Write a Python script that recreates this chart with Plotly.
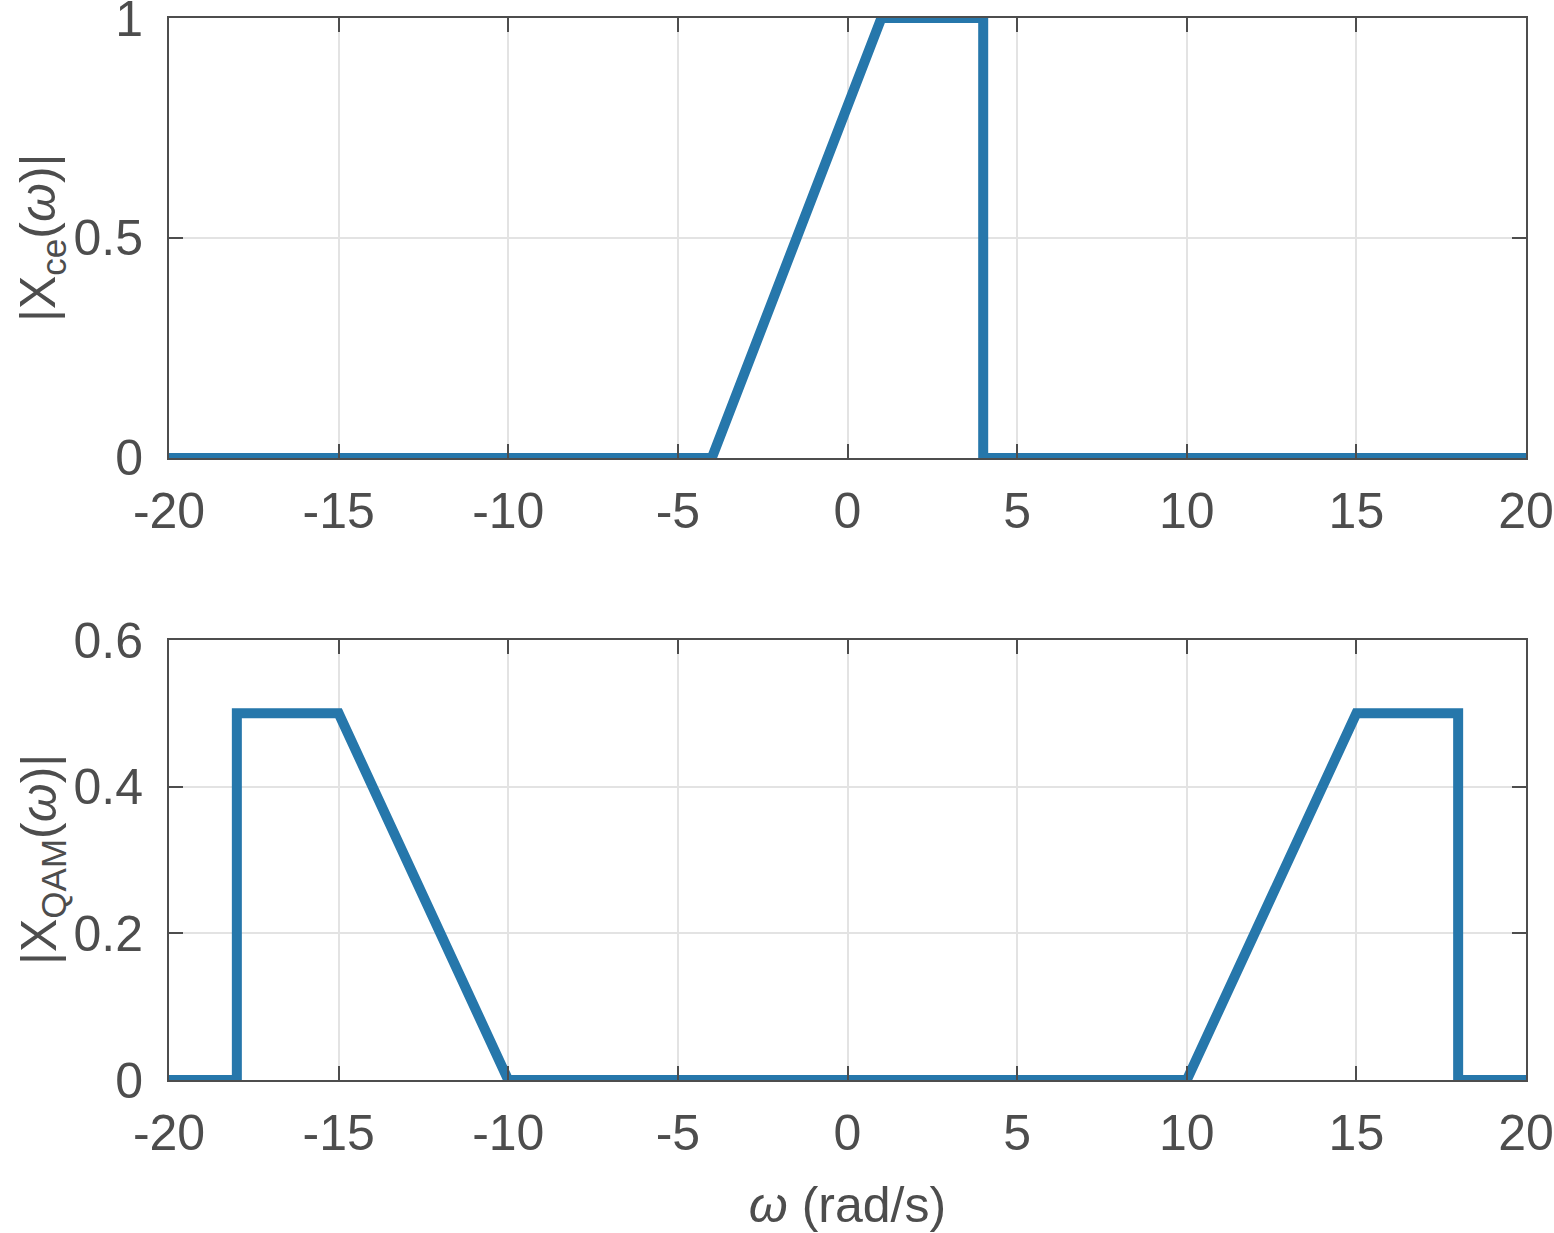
import plotly.graph_objects as go
from plotly.subplots import make_subplots

# |Xce(w)| : complex envelope spectrum
w_ce = [-20, -4, 1, 4, 4, 20]
mag_ce = [0, 0, 1, 1, 0, 0]

# |XQAM(w)| : QAM spectrum
w_qam = [-20, -18, -18, -15, -10, 10, 15, 18, 18, 20]
mag_qam = [0, 0, 0.5, 0.5, 0, 0, 0.5, 0.5, 0, 0]

x_ticks = [-20, -15, -10, -5, 0, 5, 10, 15, 20]

LINE_COLOR = "#2677ab"
AX_COLOR = "#4d4d4d"
FONT = dict(family="Liberation Sans, Arial, sans-serif", size=50, color=AX_COLOR)

fig = make_subplots(rows=2, cols=1, vertical_spacing=0.1714)

fig.add_trace(go.Scatter(x=w_ce, y=mag_ce, mode="lines",
                         line=dict(color=LINE_COLOR, width=10),
                         cliponaxis=False, showlegend=False), row=1, col=1)
fig.add_trace(go.Scatter(x=w_qam, y=mag_qam, mode="lines",
                         line=dict(color=LINE_COLOR, width=10),
                         cliponaxis=False, showlegend=False), row=2, col=1)

axis_style = dict(
    showline=True, linecolor=AX_COLOR, linewidth=2, mirror="ticks",
    ticks="inside", ticklen=14, tickwidth=2, tickcolor=AX_COLOR,
    showgrid=True, gridcolor="#e3e3e3", gridwidth=2, zeroline=False,
    tickfont=FONT, automargin=False, ticklabeloverflow="allow",
)

fig.update_xaxes(range=[-20, 20], tickvals=x_ticks, ticktext=[str(v) for v in x_ticks],
                 ticklabelstandoff=8, **axis_style)
fig.update_yaxes(ticklabelstandoff=14, **axis_style)

fig.update_yaxes(range=[0, 1], tickvals=[0, 0.5, 1], ticktext=["0", "0.5", "1"], row=1, col=1)
fig.update_yaxes(range=[0, 0.6], tickvals=[0, 0.2, 0.4, 0.6], ticktext=["0", "0.2", "0.4", "0.6"],
                 row=2, col=1)
fig.update_xaxes(title=dict(text="<i>ω</i> (rad/s)", font=FONT, standoff=30), row=2, col=1)

# y titles as rotated annotations so they sit where the reference has them
for yref, label in [("y domain", "|X<sub>ce</sub>(<i>ω</i>)|"),
                    ("y2 domain", "|X<sub>QAM</sub>(<i>ω</i>)|")]:
    fig.add_annotation(text=label, xref="x domain", yref=yref, x=0, y=0.5,
                       xanchor="center", yanchor="middle", xshift=-127,
                       textangle=-90, showarrow=False, font=FONT)

fig.update_layout(
    width=1554, height=1233,
    margin=dict(l=169, r=28, t=18, b=153),
    plot_bgcolor="white", paper_bgcolor="white",
    font=FONT,
)

# drop the default page margin so the figure fills the window exactly
fig.write_html("out.html", config={"displayModeBar": False},
               post_script="document.body.style.margin='0';document.body.style.overflow='hidden';")
